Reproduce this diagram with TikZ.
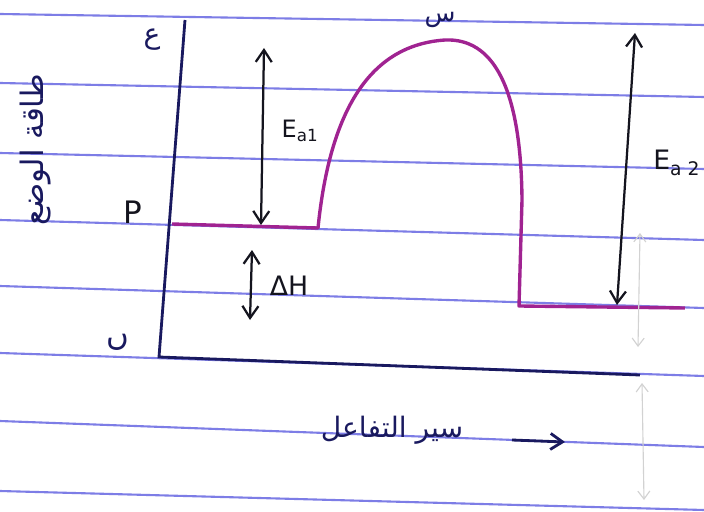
\documentclass[tikz,border=0pt]{standalone}
\usepackage{fontspec}
\setmainfont{DejaVu Sans}
\newfontfamily\arabicfont[Script=Arabic]{DejaVu Sans}
\TeXXeTstate=1
\usetikzlibrary{arrows.meta}

\definecolor{ruleblue}{RGB}{125,125,230}
\definecolor{inkblue}{RGB}{25,25,95}
\definecolor{inkpurple}{RGB}{160,35,145}
\definecolor{inkblack}{RGB}{20,20,30}

\tikzset{
  twoway/.style={{Straight Barb[length=3mm,width=4mm]}-{Straight Barb[length=3mm,width=4mm]}, line width=1.6pt, inkblack},
  faintway/.style={{Straight Barb[length=2mm,width=3mm]}-{Straight Barb[length=2mm,width=3mm]}, line width=0.8pt, gray!35},
  lbl/.style={inner sep=0pt, text=inkblack},
}

\begin{document}
\begin{tikzpicture}[x=0.025cm,y=-0.025cm]
\useasboundingbox (0,0) rectangle (704,512);
\clip (0,0) rectangle (704,512);
\fill[white] (0,0) rectangle (704,512);
% ruled paper
\foreach \l/\r in {14/25,83/97,153/169,220/240,286/308,353/376,421/447,491/510}
  \draw[ruleblue, line width=1.5pt] (0,\l) -- (704,\r);
% axes
\coordinate (ytop) at (185,20);
\coordinate (orig) at (159,357);
\coordinate (xend) at (640,375);
\draw[inkblue, line width=2pt] (ytop) -- (orig) -- (xend);
% energy profile
\coordinate (r1) at (172,224);
\coordinate (r2) at (318,228);
\coordinate (peak) at (445,40);
\coordinate (p1) at (519,306);
\coordinate (p2) at (685,308);
\draw[inkpurple, line width=2.4pt, line join=round] (r1) -- (r2)
  .. controls (330,110) and (370,45) .. (peak)
  .. controls (492,38) and (521,85) .. (522,200) -- (p1) -- (p2);
% arrows
\coordinate (ea1top) at (264,48);
\coordinate (ea1bot) at (261,225);
\draw[twoway] (ea1top) -- (ea1bot);
\coordinate (dhtop) at (252,250);
\coordinate (dhbot) at (250,320);
\draw[twoway] (dhtop) -- (dhbot);
\coordinate (ea2top) at (635,33);
\coordinate (ea2bot) at (617,305);
\draw[twoway] (ea2top) -- (ea2bot);
% faint marks
\coordinate (f1top) at (640,233);
\coordinate (f1bot) at (638,347);
\draw[faintway] (f1top) -- (f1bot);
\coordinate (f2top) at (642,383);
\coordinate (f2bot) at (644,500);
\draw[faintway] (f2top) -- (f2bot);
% labels
\node[lbl, font=\fontsize{17}{19}\selectfont] (ea1) at (300,131) {E\textsubscript{a1}};
\node[lbl, font=\fontsize{19}{21}\selectfont] (dh) at (289,286) {ΔH};
\node[lbl, anchor=west, font=\fontsize{19}{21}\selectfont] (ea2) at (653,163) {E\textsubscript{a 2}};
\node[lbl, font=\fontsize{22}{24}\selectfont] (plbl) at (133,212) {P};
\node[lbl, text=inkblue, font=\fontsize{20}{22}\selectfont] (top) at (152,40) {\arabicfont\beginR ع\endR};
\node[lbl, text=inkblue, font=\fontsize{22}{24}\selectfont] (bot) at (118,342) {\arabicfont\beginR ں\endR};
\node[lbl, text=inkblue, font=\fontsize{18}{20}\selectfont] (ts) at (440,20) {\arabicfont\beginR س\endR};
\node[lbl, text=inkblue, rotate=90, font=\fontsize{22}{24}\selectfont] (yname) at (36,150) {\arabicfont\beginR طاقة الوضع\endR};
\node[lbl, text=inkblue, font=\fontsize{20}{22}\selectfont] (xname) at (392,430) {\arabicfont\beginR سير التفاعل\endR};
\coordinate (dirfrom) at (512,440);
\coordinate (dirto) at (565,442);
\draw[inkblue, line width=2pt, -{Straight Barb[length=3mm,width=4mm]}] (dirfrom) -- (dirto);
\end{tikzpicture}
\end{document}
